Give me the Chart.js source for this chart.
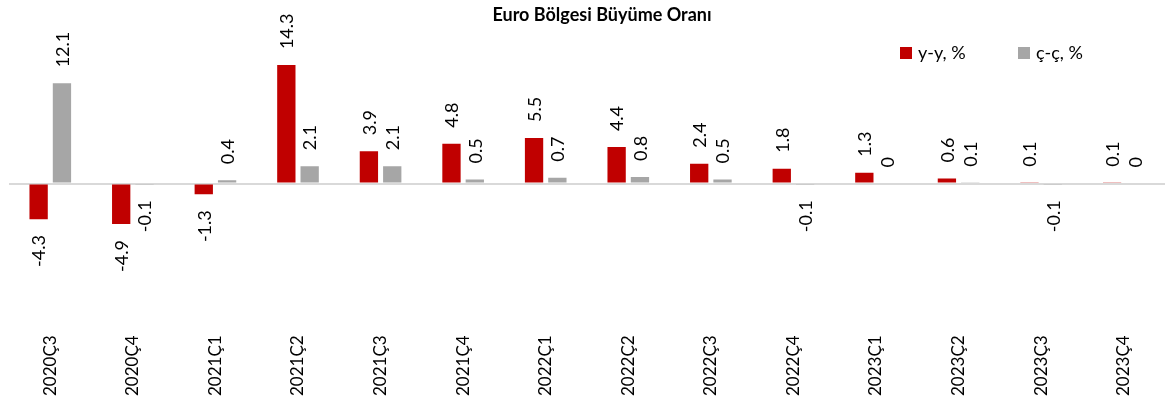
<!DOCTYPE html>
<html>
<head>
<meta charset="utf-8">
<script src="https://cdn.jsdelivr.net/npm/chart.js@4.4.1/dist/chart.umd.min.js"></script>
<style>
  html, body { margin: 0; padding: 0; background: #fff; }
  #wrap { width: 1172px; height: 414px; }
</style>
</head>
<body>
<div id="wrap"><canvas id="chart"></canvas></div>
<script>
const categories = ['2020Ç3', '2020Ç4', '2021Ç1', '2021Ç2', '2021Ç3', '2021Ç4', '2022Ç1',
  '2022Ç2', '2022Ç3', '2022Ç4', '2023Ç1', '2023Ç2', '2023Ç3', '2023Ç4'];
const yoyValues = [-4.3, -4.9, -1.3, 14.3, 3.9, 4.8, 5.5, 4.4, 2.4, 1.8, 1.3, 0.6, 0.1, 0.1];
const qoqValues = [12.1, -0.1, 0.4, 2.1, 2.1, 0.5, 0.7, 0.8, 0.5, -0.1, 0, 0.1, -0.1, 0];
const seriesNames = ['y-y, %', 'ç-ç, %'];
const chartTitle = 'Euro Bölgesi Büyüme Oranı';

const FONT = 'Lato, "Liberation Sans", sans-serif';

// value labels, title and legend drawn on top of the bars
const labelsPlugin = {
  id: 'barLabels',
  afterDraw(chart) {
    const ctx = chart.ctx;
    ctx.save();
    ctx.fillStyle = '#000';
    ctx.font = '18px ' + FONT;
    ctx.textBaseline = 'middle';
    chart.data.datasets.forEach((ds, i) => {
      const meta = chart.getDatasetMeta(i);
      meta.data.forEach((bar, j) => {
        const v = ds.data[j];
        ctx.save();
        if (v >= 0) {
          ctx.translate(bar.x, bar.y - 16);
          ctx.rotate(-Math.PI / 2);
          ctx.textAlign = 'left';
        } else {
          ctx.translate(bar.x, bar.y + 16);
          ctx.rotate(-Math.PI / 2);
          ctx.textAlign = 'right';
        }
        ctx.fillText(String(v), 0, 1);
        ctx.restore();
      });
    });

    // title
    ctx.font = 'bold 18px ' + FONT;
    ctx.textAlign = 'center';
    ctx.fillText(chartTitle, 602, 15);

    // legend
    ctx.font = '18px ' + FONT;
    ctx.textAlign = 'left';
    const legendX = [900, 1018];
    chart.data.datasets.forEach((ds, i) => {
      ctx.fillStyle = ds.backgroundColor;
      ctx.fillRect(legendX[i], 47, 12, 12);
      ctx.fillStyle = '#000';
      ctx.fillText(ds.label, legendX[i] + 18, 53);
    });
    ctx.restore();
  }
};

new Chart(document.getElementById('chart'), {
  type: 'bar',
  data: {
    labels: categories,
    datasets: [
      {
        label: seriesNames[0],
        data: yoyValues,
        backgroundColor: '#c00000'
      },
      {
        label: seriesNames[1],
        data: qoqValues,
        backgroundColor: '#a6a6a6'
      }
    ]
  },
  options: {
    responsive: true,
    maintainAspectRatio: false,
    animation: false,
    categoryPercentage: 0.565,
    barPercentage: 0.785,
    layout: {
      padding: { top: 32, left: 9, right: 7, bottom: 10 }
    },
    scales: {
      x: {
        grid: { display: false },
        border: { display: false },
        ticks: {
          autoSkip: false,
          maxRotation: 90,
          minRotation: 90,
          padding: 8,
          color: '#000',
          font: { family: FONT, size: 17 }
        }
      },
      y: {
        min: -16.4,
        max: 18.3,
        afterBuildTicks: (scale) => { scale.ticks = [{ value: 0 }]; },
        ticks: { display: false },
        border: { display: false },
        grid: {
          drawTicks: false,
          color: '#d9d9d9',
          lineWidth: 2
        }
      }
    },
    plugins: {
      legend: { display: false },
      title: { display: false },
      tooltip: { enabled: false }
    }
  },
  plugins: [labelsPlugin]
});
</script>
</body>
</html>
